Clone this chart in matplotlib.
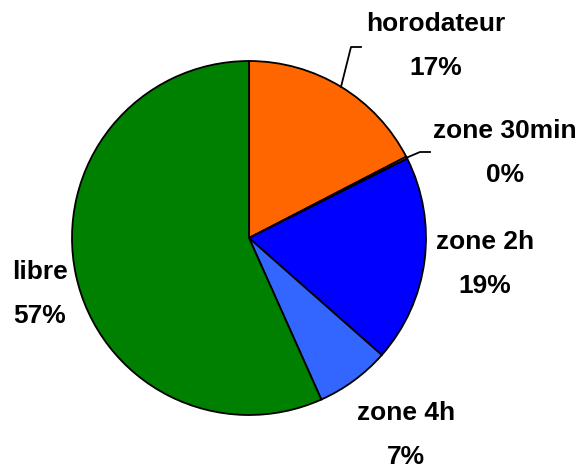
import numpy as np
import matplotlib
matplotlib.use('Agg')
import matplotlib.pyplot as plt

# Data
labels = ['horodateur', 'zone 30min', 'zone 2h', 'zone 4h', 'libre']
values = [17.4, 0.2, 18.9, 6.8, 56.7]
colors = ['#FF6600', '#FF6600', '#0000FF', '#3366FF', '#008000']

W, H = 582, 470
cx, cy, R = 249, 238, 177  # pie centre/radius in pixels

# label centres in pixels (first line), and leader-line elbows
lab_pos = [(436, 24), (505, 131), (485, 242), (406, 413), (40, 272)]
elbows = [((351, 47), (361, 47)), ((420, 152), (430, 152)), None, None, None]

plt.rcParams['font.family'] = ['Liberation Sans Narrow', 'Liberation Sans', 'DejaVu Sans']

fig = plt.figure(figsize=(W/100, H/100), dpi=100)
ax = fig.add_axes([0, 0, 1, 1])

def px(x, y):
    return (x - cx)/R, (cy - y)/R

wedges, _ = ax.pie(values, colors=colors, startangle=90, counterclock=False,
                   radius=1, wedgeprops=dict(edgecolor='black', linewidth=1.3))
ax.set_aspect('auto')
ax.set_xlim(px(0, 0)[0], px(W, 0)[0])
ax.set_ylim(px(0, H)[1], px(0, 0)[1])
ax.axis('off')

total = sum(values)
fs = 19
for i, w in enumerate(wedges):
    pct = '%d%%' % round(values[i]/total*100)
    x, y = px(*lab_pos[i])
    ax.text(x, y, labels[i], ha='center', va='center', fontsize=fs, fontweight='bold')
    x2, y2 = px(lab_pos[i][0], lab_pos[i][1] + 44)
    ax.text(x2, y2, pct, ha='center', va='center', fontsize=fs, fontweight='bold')
    if elbows[i] is not None:
        mid = np.deg2rad((w.theta1 + w.theta2)/2)
        e1 = px(*elbows[i][0])
        e2 = px(*elbows[i][1])
        ax.plot([np.cos(mid), e1[0], e2[0]], [np.sin(mid), e1[1], e2[1]],
                color='black', linewidth=1.3)

fig.savefig('out.png', dpi=100)
